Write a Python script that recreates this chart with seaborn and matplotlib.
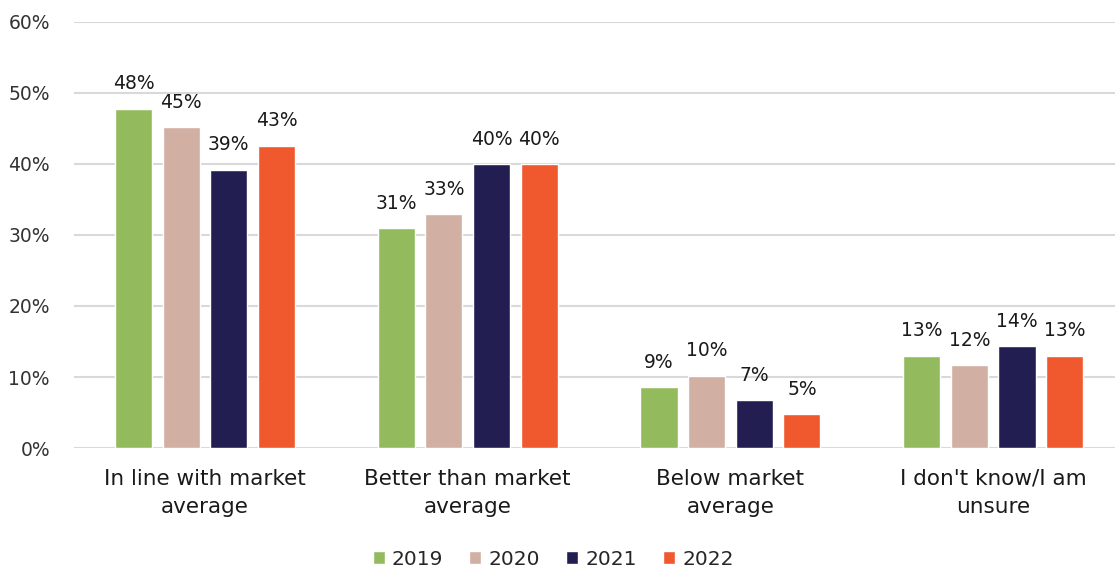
import matplotlib
matplotlib.use("Agg")
import matplotlib.pyplot as plt
import seaborn as sns
import pandas as pd
from matplotlib.ticker import FuncFormatter, MultipleLocator

categories = [
    "In line with market\naverage",
    "Better than market\naverage",
    "Below market\naverage",
    "I don't know/I am\nunsure",
]
years = ["2019", "2020", "2021", "2022"]
values_2019 = [47.8, 31.0, 8.6, 13.0]
values_2020 = [45.2, 32.9, 10.2, 11.7]
values_2021 = [39.2, 40.0, 6.7, 14.3]
values_2022 = [42.6, 40.0, 4.8, 13.0]
series = [values_2019, values_2020, values_2021, values_2022]
colors = ["#93BB5E", "#D1AFA3", "#221E52", "#F0582D"]

rows = []
for year, vals in zip(years, series):
    for cat, v in zip(categories, vals):
        rows.append({"category": cat, "year": year, "value": v})
df = pd.DataFrame(rows)

sns.set_theme(style="white")
plt.rcParams["font.family"] = ["DejaVu Sans"]

fig = plt.figure(figsize=(11.15, 5.71), dpi=100)
ax = fig.add_axes([0.066, 0.2154, 0.9426, 0.7461])

sns.barplot(
    data=df, x="category", y="value", hue="year",
    order=categories, hue_order=years, palette=colors,
    width=0.725, gap=0.22, saturation=1, ax=ax, errorbar=None,
    legend=True,
)

for container in ax.containers:
    ax.bar_label(container, labels=[f"{b.get_height():.0f}%" for b in container],
                 padding=11, fontsize=13.5, color="#1a1a1a")

ax.set_ylim(0, 60)
ax.set_xlim(-0.5, 3.5)
ax.yaxis.set_major_locator(MultipleLocator(10))
ax.yaxis.set_major_formatter(FuncFormatter(lambda v, _: f"{v:.0f}%"))
ax.grid(axis="y", color="#D9D9D9", linewidth=1.5)
ax.set_axisbelow(True)
for s in ax.spines.values():
    s.set_visible(False)
ax.tick_params(axis="y", labelsize=13.5, colors="#333333", length=0, pad=17)
ax.tick_params(axis="x", labelsize=15.5, colors="#1a1a1a", length=0, pad=15)
for lbl in ax.get_xticklabels():
    lbl.set_linespacing(1.5)
ax.set_xlabel("")
ax.set_ylabel("")

handles, labels = ax.get_legend_handles_labels()
ax.get_legend().remove()
fig.legend(
    handles, labels, loc="center", bbox_to_anchor=(0.496, 0.021), ncol=4,
    frameon=False, fontsize=14.5, handlelength=0.6, handleheight=0.6,
    handletextpad=0.35, columnspacing=1.3, borderaxespad=0, borderpad=0,
)

fig.savefig("out.png", dpi=100)
